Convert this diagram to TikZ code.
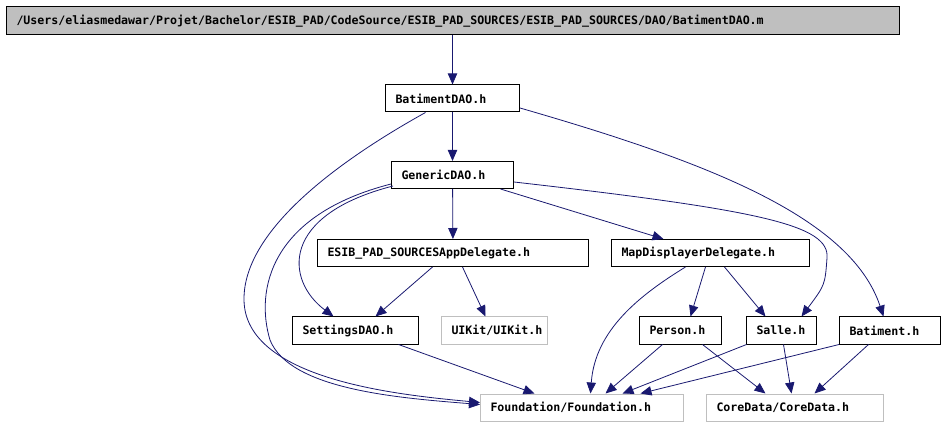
\documentclass[tikz,border=0pt]{standalone}
\usepackage{fontspec}
\setmonofont{DejaVu Sans Mono}
\usetikzlibrary{arrows.meta, calc}
\definecolor{edgeblue}{HTML}{191970}
\definecolor{rootgray}{HTML}{BFBFBF}
\definecolor{extgray}{HTML}{BFBFBF}

\begin{document}
\begin{tikzpicture}[x=0.75pt, y=-0.75pt,
    hfile/.style={draw=black, line width=0.75pt, anchor=west, align=left,
                  text width=#1, inner xsep=7.5pt, inner ysep=0pt,
                  minimum height=20.25pt,
                  font=\ttfamily\bfseries\fontsize{8.7}{10}\selectfont},
    extfile/.style={hfile=#1, draw=extgray},
    dep/.style={draw=edgeblue, line width=0.6pt,
                -{Triangle[length=8.25pt,width=7pt]}}]
    \useasboundingbox (0,0) rectangle (945,427);
    % files
    \node[hfile=654.75pt, fill=rootgray, minimum height=21pt](root)at(6,21)
         {/Users/eliasmedawar/Projet/Bachelor/ESIB\_PAD/CodeSource/ESIB\_PAD\_SOURCES/ESIB\_PAD\_SOURCES/DAO/BatimentDAO.m};
    \node[hfile=85.5pt](bdao)at(385,98.5){BatimentDAO.h};
    \node[hfile=76.5pt](gdao)at(391,175){GenericDAO.h};
    \node[hfile=188.25pt](appdel)at(317,253){ESIB\_PAD\_SOURCESAppDelegate.h};
    \node[hfile=133.5pt](mapdel)at(611,253){MapDisplayerDelegate.h};
    \node[hfile=79.5pt](settings)at(292,330.5){SettingsDAO.h};
    \node[extfile=64.5pt](uikit)at(441,330.5){UIKit/UIKit.h};
    \node[hfile=46.5pt](person)at(639,330.5){Person.h};
    \node[hfile=37.5pt](salle)at(746,330.5){Salle.h};
    \node[hfile=60.75pt](batiment)at(839,330.5){Batiment.h};
    \node[extfile=137.25pt](foundation)at(480,407.5){Foundation/Foundation.h};
    \node[extfile=117.75pt](coredata)at(706,407.5){CoreData/CoreData.h};
    % includes of BatimentDAO.m and BatimentDAO.h
    \draw[dep](root.south -| bdao)--(bdao.north);
    \draw[dep](bdao)--(gdao);
    \draw[dep]($(bdao.south)+(-27,0)$) .. controls (340,160) and (243,230) .. (244,300)
              .. controls (245,380) and (400,395) .. ($(foundation.west)+(0,-5)$);
    \draw[dep](bdao.east |- 0,108) .. controls (700,160) and (850,215) .. ($(batiment.north)+(-6.5,0)$);
    % includes of GenericDAO.h
    \draw[dep](gdao)--(appdel);
    \draw[dep]($(gdao.south)+(48,0)$)--($(mapdel.north)+(-47,0)$);
    \draw[dep]($(gdao.west)+(2,11)$) .. controls (280,215) and (285,280) .. ($(settings.north)+(-22,0)$);
    \draw[dep]($(gdao.west)+(0,9)$) .. controls (270,215) and (255,290) .. (270,340)
              .. controls (290,390) and (400,398) .. ($(foundation.west)+(0,-3)$);
    \draw[dep]($(gdao.east)+(0,7)$) .. controls (760,210) and (830,225) .. (827,258)
              .. controls (825,285) .. ($(salle.north)+(20,0)$);
    % includes of the delegates
    \draw[dep]($(appdel.south)+(-20.5,0)$)--($(settings.north)+(20,0)$);
    \draw[dep]($(appdel.south)+(9.5,0)$)--($(uikit.north)+(-9,0)$);
    \draw[dep]($(mapdel.south)+(-25,0)$) .. controls (640,295) and (595,330) .. ($(foundation.north)+(8.5,0)$);
    \draw[dep]($(mapdel.south)+(-5,0)$)--($(person.north)+(10,0)$);
    \draw[dep]($(mapdel.south)+(14,0)$)--($(salle.north)+(-16,0)$);
    % includes of the models
    \draw[dep]($(settings.south)+(43,0)$)--($(foundation.north)+(-47.5,0)$);
    \draw[dep]($(person.south)+(-18,0)$)--($(foundation.north)+(23.5,0)$);
    \draw[dep]($(person.south)+(22,0)$)--($(coredata.north)+(-29.5,0)$);
    \draw[dep]($(salle.south)+(-35,0)$)--($(foundation.north)+(40.5,0)$);
    \draw[dep]($(salle.south)+(2,0)$)--($(coredata.north)+(-3.5,0)$);
    \draw[dep](batiment.south west)--($(foundation.north)+(58.5,0)$);
    \draw[dep]($(batiment.south)+(-21.5,0)$)--($(coredata.north)+(19.5,0)$);
  \end{tikzpicture}
\end{document}
